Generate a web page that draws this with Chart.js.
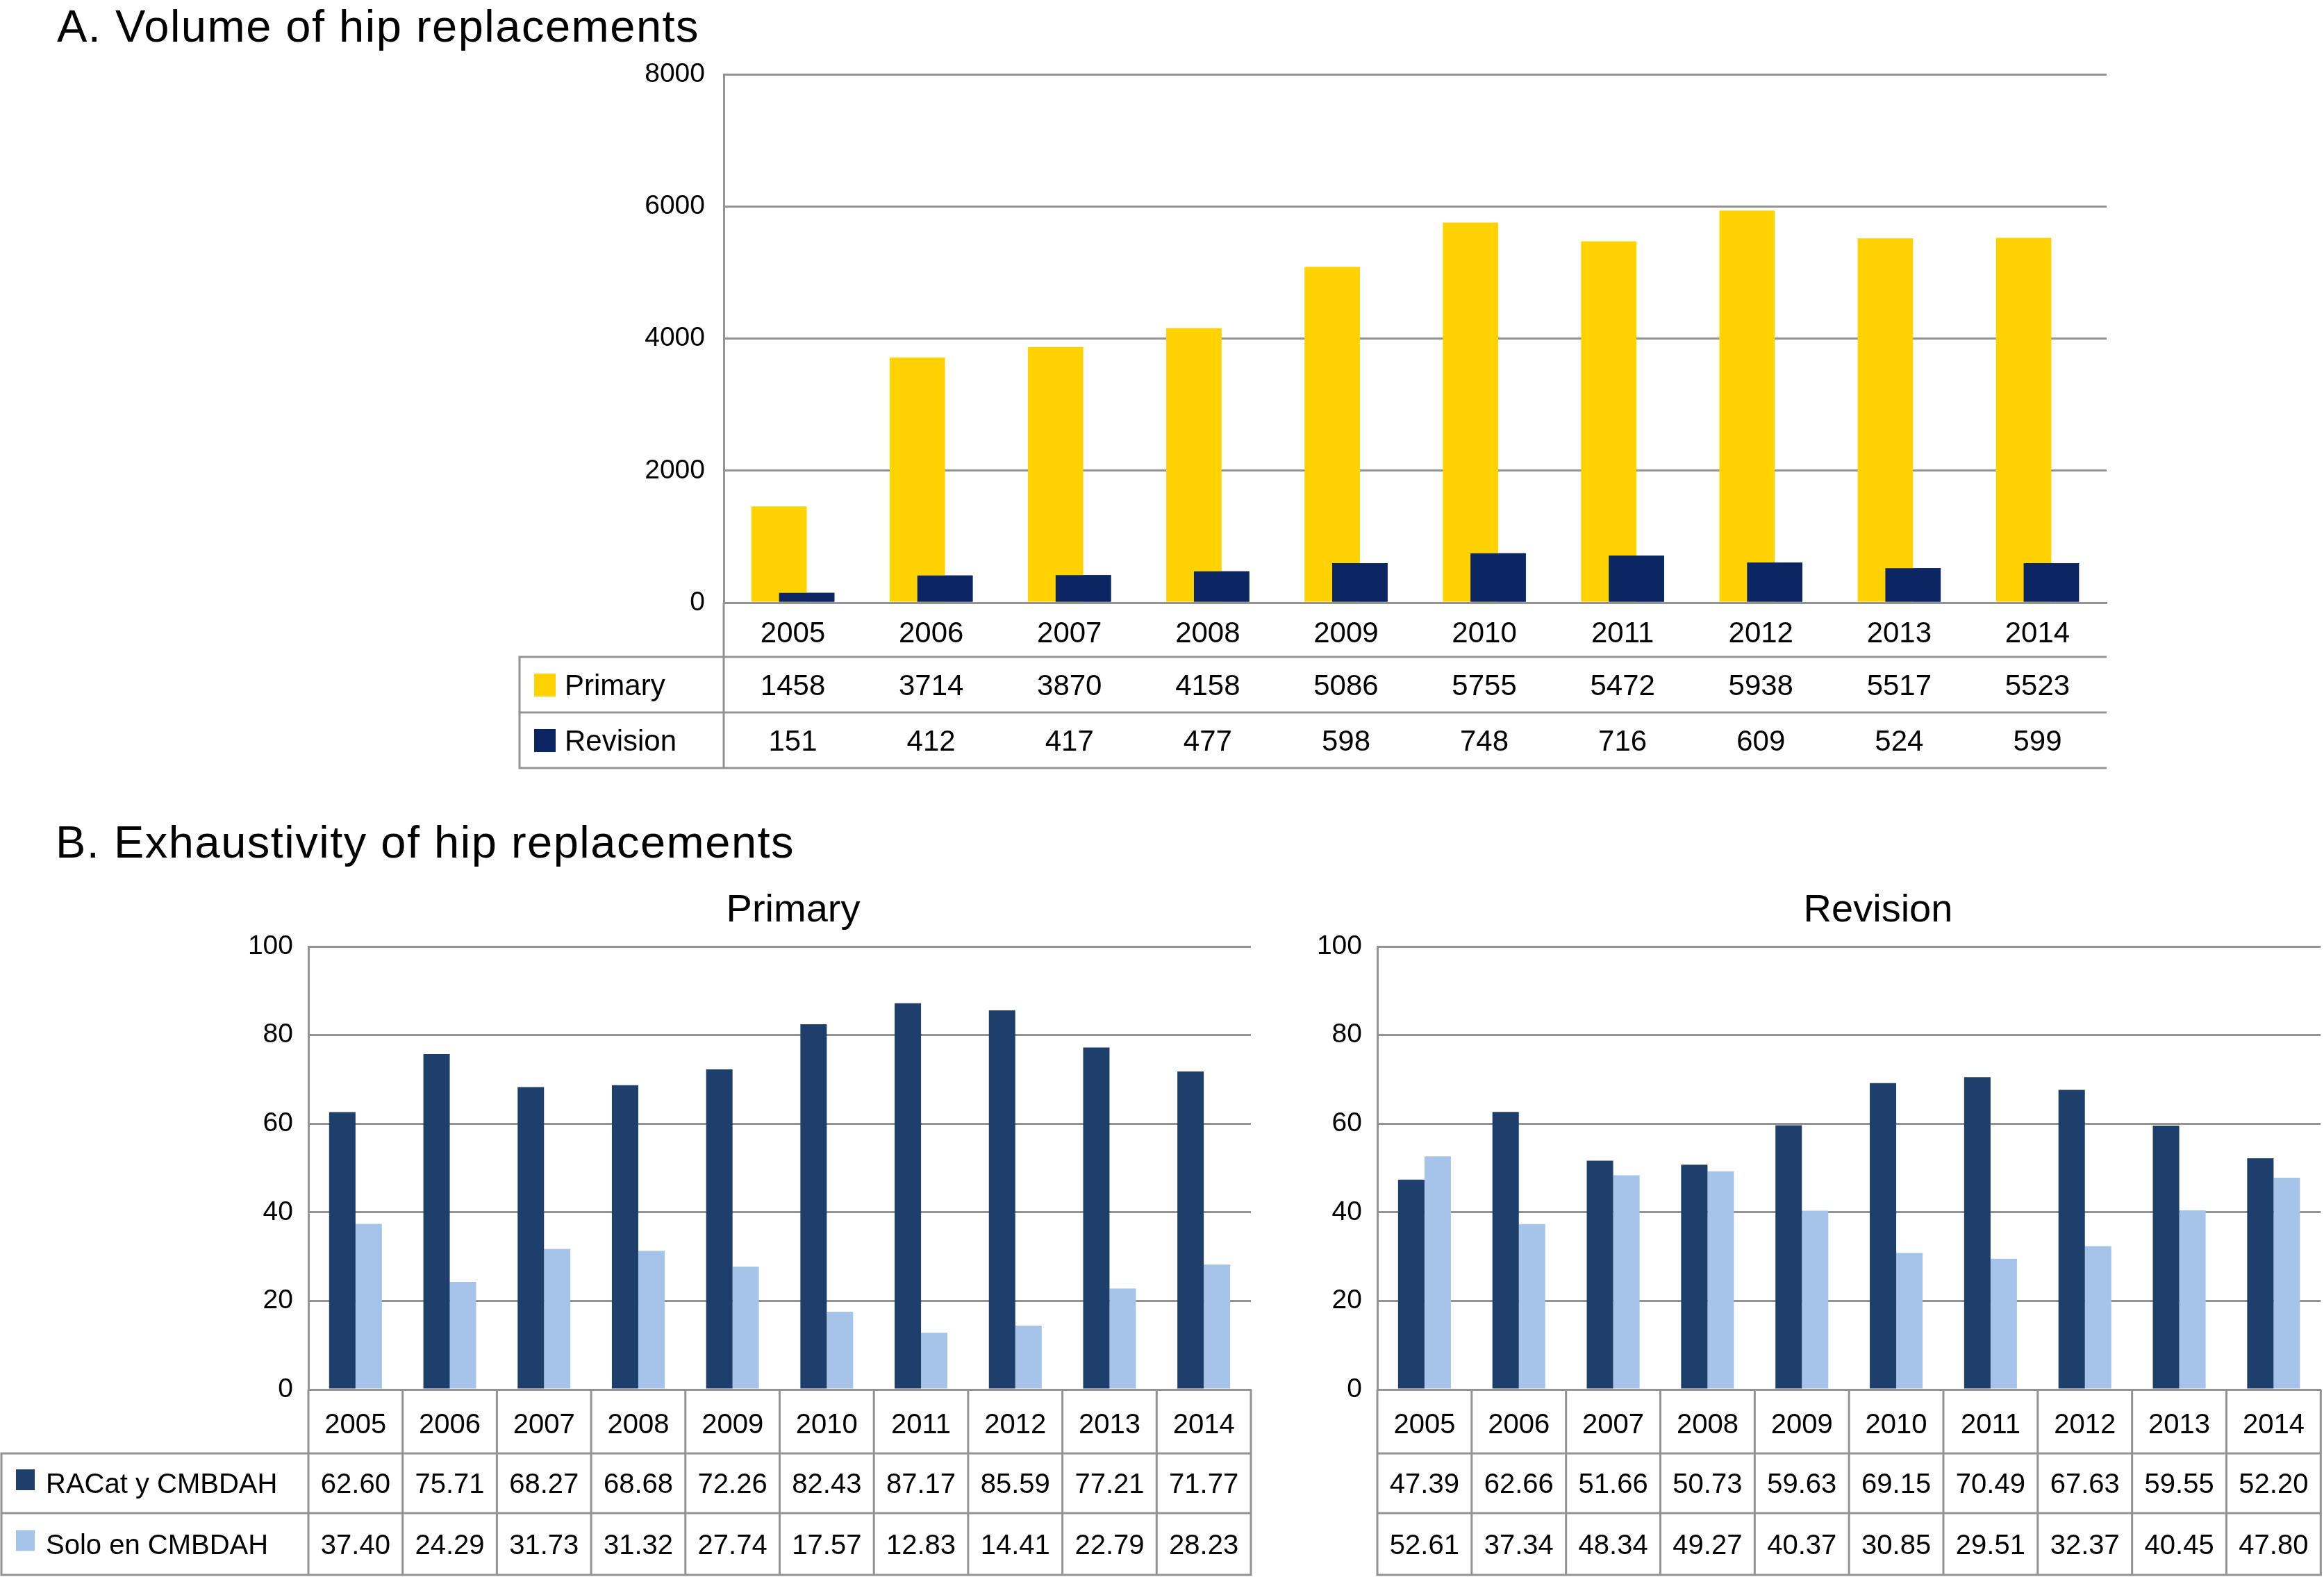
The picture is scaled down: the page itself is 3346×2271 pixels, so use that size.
<!DOCTYPE html>
<html>
<head>
<meta charset="utf-8">
<script src="https://cdn.jsdelivr.net/npm/chart.js@4.4.1/dist/chart.umd.min.js"></script>
<style>
  html, body { margin: 0; padding: 0; background: #ffffff; }
  body { width: 3346px; height: 2271px; position: relative; overflow: hidden; font-family: "Liberation Sans", Arial, sans-serif; color: #000; }
  .h { position: absolute; white-space: nowrap; line-height: 1; }
  canvas { position: absolute; }
</style>
</head>
<body>
<div class="h" style="left:82px; top:5px; font-size:65px; letter-spacing:1.5px;">A. Volume of hip replacements</div>
<div class="h" style="left:80px; top:1180px; font-size:65px; letter-spacing:1.5px;">B. Exhaustivity of hip replacements</div>
<div class="h" style="left:642px; width:1000px; text-align:center; top:1280px; font-size:56px;">Primary</div>
<div class="h" style="left:2204px; width:1000px; text-align:center; top:1280px; font-size:56px;">Revision</div>

<canvas id="cA" width="3346" height="1150" style="left:0; top:0; width:3346px; height:1150px;"></canvas>
<canvas id="cB1" width="1850" height="1021" style="left:0; top:1250px; width:1850px; height:1021px;"></canvas>
<canvas id="cB2" width="1496" height="1021" style="left:1850px; top:1250px; width:1496px; height:1021px;"></canvas>

<script>
// ---------------- DATA ----------------
const years = ['2005','2006','2007','2008','2009','2010','2011','2012','2013','2014'];

const volumeSeriesNames = ['Primary', 'Revision'];
const volumePrimary  = [1458, 3714, 3870, 4158, 5086, 5755, 5472, 5938, 5517, 5523];
const volumeRevision = [151, 412, 417, 477, 598, 748, 716, 609, 524, 599];

const exhSeriesNames = ['RACat y CMBDAH', 'Solo en CMBDAH'];
const primaryRACat = [62.60, 75.71, 68.27, 68.68, 72.26, 82.43, 87.17, 85.59, 77.21, 71.77];
const primarySolo  = [37.40, 24.29, 31.73, 31.32, 27.74, 17.57, 12.83, 14.41, 22.79, 28.23];
const revisionRACat = [47.39, 62.66, 51.66, 50.73, 59.63, 69.15, 70.49, 67.63, 59.55, 52.20];
const revisionSolo  = [52.61, 37.34, 48.34, 49.27, 40.37, 30.85, 29.51, 32.37, 40.45, 47.80];

const volumeAxis = { min: 0, max: 8000, step: 2000 };
const exhAxis = { min: 0, max: 100, step: 20 };

// ---------------- STYLE ----------------
const FONT = '"Liberation Sans", Arial, sans-serif';
const GRID = '#939393';
const YELLOW = '#FFD200';
const NAVY = '#0C2563';
const DARK = '#1E3E6B';
const LIGHT = '#A6C4E9';

Chart.defaults.font.family = FONT;
Chart.defaults.color = '#000';

function txt(ctx, s, x, yc, size, align) {
  ctx.font = size + 'px ' + FONT;
  ctx.textAlign = align || 'center';
  ctx.textBaseline = 'alphabetic';
  ctx.fillStyle = '#000';
  ctx.fillText(s, x, yc + size * 0.358);
}

// ---------------- CHART A ----------------
const tableA = {
  id: 'tableA',
  afterDatasetsDraw(chart) {
    // revision bars sit in front of the primary bars
    chart.getDatasetMeta(1).controller.draw();
  },
  afterDraw(chart) {
    const { ctx, chartArea: a, scales: { x } } = chart;
    const b = a.bottom;
    const y1 = b + 78, y2 = b + 158, y3 = b + 238;
    const left = 748;
    ctx.save();
    ctx.strokeStyle = GRID;
    ctx.lineWidth = 3;
    ctx.beginPath();
    [y1, y2, y3].forEach(y => { ctx.moveTo(left, y); ctx.lineTo(a.right, y); });
    ctx.moveTo(left, y1 - 1.5); ctx.lineTo(left, y3 + 1.5);
    ctx.moveTo(a.left, b); ctx.lineTo(a.left, y3 + 1.5);
    ctx.stroke();

    const rows = [
      { name: volumeSeriesNames[0], color: YELLOW, vals: volumePrimary, yc: (y1 + y2) / 2 },
      { name: volumeSeriesNames[1], color: NAVY, vals: volumeRevision, yc: (y2 + y3) / 2 }
    ];
    rows.forEach(r => {
      ctx.fillStyle = r.color;
      ctx.fillRect(769, r.yc - 16, 31, 33);
      txt(ctx, r.name, 813, r.yc, 42, 'left');
      r.vals.forEach((v, i) => txt(ctx, String(v), x.getPixelForValue(i), r.yc, 42, 'center'));
    });
    ctx.restore();
  }
};

new Chart(document.getElementById('cA'), {
  type: 'bar',
  data: {
    labels: years,
    datasets: [
      { label: volumeSeriesNames[0], data: volumePrimary, backgroundColor: YELLOW, borderWidth: 0 },
      { label: volumeSeriesNames[1], data: volumeRevision, backgroundColor: NAVY, borderWidth: 0 }
    ]
  },
  options: {
    responsive: false,
    devicePixelRatio: 1,
    animation: false,
    categoryPercentage: 0.4,
    barPercentage: 2.0,
    layout: { padding: { top: 107, right: 313, left: 0, bottom: 0 } },
    plugins: { legend: { display: false }, tooltip: { enabled: false }, title: { display: false } },
    scales: {
      x: {
        grid: { display: false, drawTicks: false },
        border: { display: true, color: GRID, width: 3 },
        ticks: { font: { size: 42 }, color: '#000', padding: 20, maxRotation: 0, autoSkip: false },
        afterFit(s) { s.height = 282; }
      },
      y: {
        min: volumeAxis.min, max: volumeAxis.max,
        grid: { color: GRID, lineWidth: 3, drawTicks: false },
        border: { display: true, color: GRID, width: 3 },
        ticks: { stepSize: volumeAxis.step, font: { size: 39 }, color: '#000', padding: 27,
                 callback: v => String(v) },
        afterFit(s) { s.width = 1042; }
      }
    }
  },
  plugins: [tableA]
});

// ---------------- CHART B ----------------
function makeTableB(id, racat, solo, withLegend) {
  return {
    id: id,
    afterDraw(chart) {
      const { ctx, chartArea: a, scales: { x } } = chart;
      const b = a.bottom;
      const y1 = b + 92, y2 = b + 178, y3 = b + 267;
      const left = withLegend ? 2 : a.left;
      const cw = x.getPixelForValue(1) - x.getPixelForValue(0);
      ctx.save();
      ctx.strokeStyle = GRID;
      ctx.lineWidth = 3;
      ctx.beginPath();
      [y1, y2, y3].forEach(y => { ctx.moveTo(left, y); ctx.lineTo(a.right, y); });
      if (withLegend) { ctx.moveTo(left, y1 - 1.5); ctx.lineTo(left, y3 + 1.5); }
      for (let i = 0; i <= years.length; i++) {
        const xb = i < years.length ? x.getPixelForValue(i) - cw / 2 : x.getPixelForValue(years.length - 1) + cw / 2;
        ctx.moveTo(xb, b); ctx.lineTo(xb, y3 + 1.5);
      }
      ctx.stroke();

      const rows = [
        { name: exhSeriesNames[0], color: DARK, vals: racat, yc: (y1 + y2) / 2 },
        { name: exhSeriesNames[1], color: LIGHT, vals: solo, yc: (y2 + y3) / 2 }
      ];
      rows.forEach(r => {
        if (withLegend) {
          ctx.fillStyle = r.color;
          ctx.fillRect(23, r.yc - 20, 27, 30);
          txt(ctx, r.name, 66, r.yc, 40, 'left');
        }
        r.vals.forEach((v, i) => txt(ctx, v.toFixed(2), x.getPixelForValue(i), r.yc, 40, 'center'));
      });
      ctx.restore();
    }
  };
}

function makeB(canvasId, racat, solo, yWidth, rightPad, withLegend) {
  return new Chart(document.getElementById(canvasId), {
    type: 'bar',
    data: {
      labels: years,
      datasets: [
        { label: exhSeriesNames[0], data: racat, backgroundColor: DARK, borderWidth: 0 },
        { label: exhSeriesNames[1], data: solo, backgroundColor: LIGHT, borderWidth: 0 }
      ]
    },
    options: {
      responsive: false,
      devicePixelRatio: 1,
      animation: false,
      categoryPercentage: 0.56,
      barPercentage: 1.0,
      layout: { padding: { top: 113, right: rightPad, left: 0, bottom: 0 } },
      plugins: { legend: { display: false }, tooltip: { enabled: false }, title: { display: false } },
      scales: {
        x: {
          grid: { display: false, drawTicks: false },
          border: { display: true, color: GRID, width: 3 },
          ticks: { font: { size: 40 }, color: '#000', padding: 28, maxRotation: 0, autoSkip: false },
          afterFit(s) { s.height = 270; }
        },
        y: {
          min: exhAxis.min, max: exhAxis.max,
          grid: { color: GRID, lineWidth: 3, drawTicks: false },
          border: { display: true, color: GRID, width: 3 },
          ticks: { stepSize: exhAxis.step, font: { size: 39 }, color: '#000', padding: 22,
                   callback: v => String(v) },
          afterFit(s) { s.width = yWidth; }
        }
      }
    },
    plugins: [makeTableB(canvasId + 't', racat, solo, withLegend)]
  });
}

makeB('cB1', primaryRACat, primarySolo, 444, 49, true);
makeB('cB2', revisionRACat, revisionSolo, 133, 2, false);
</script>
</body>
</html>
